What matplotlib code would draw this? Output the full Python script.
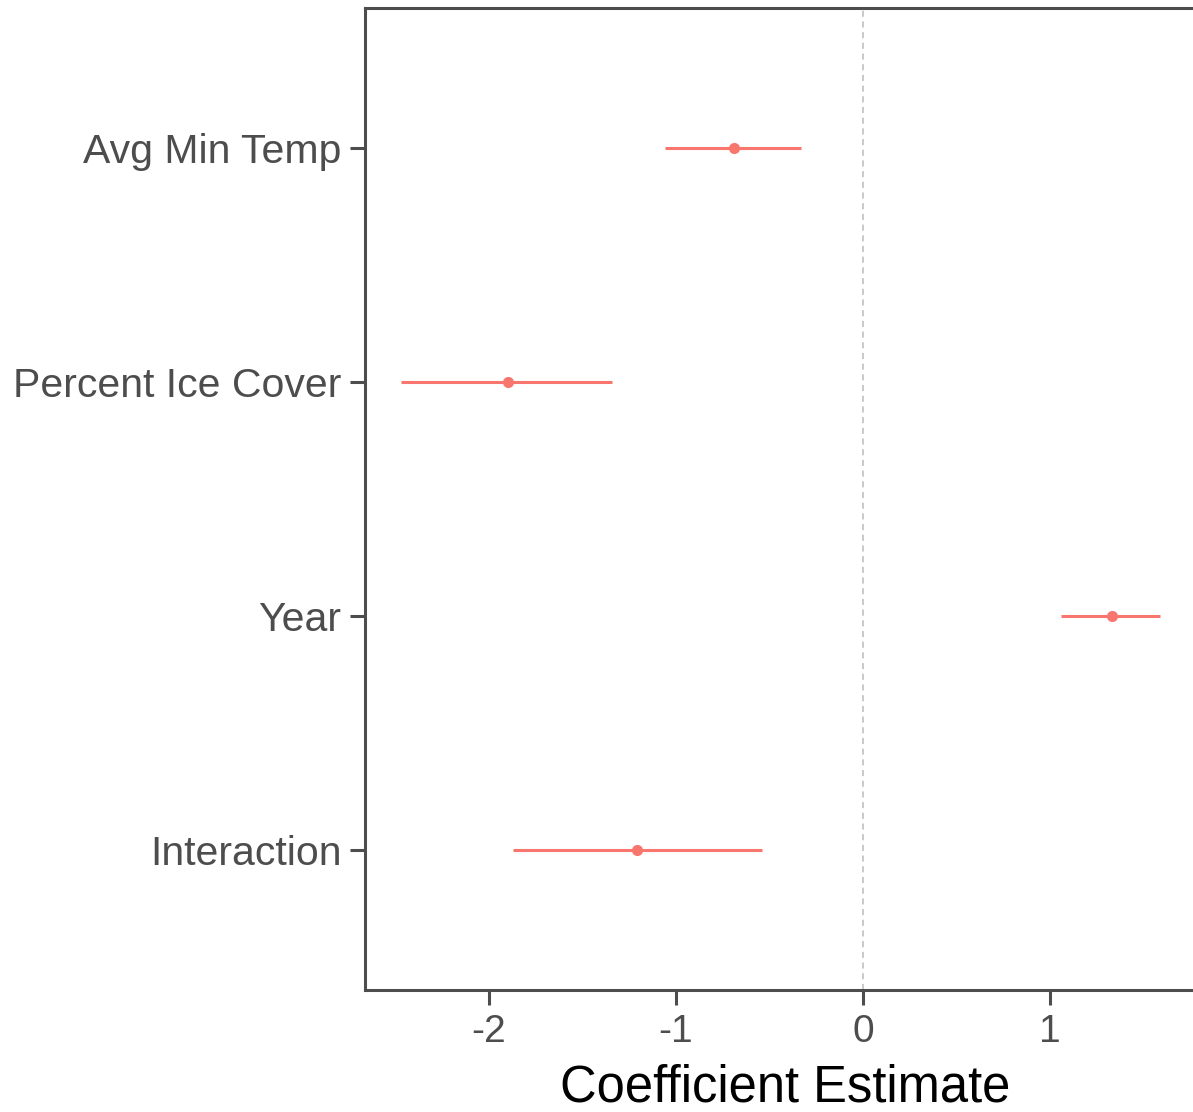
import matplotlib.pyplot as plt

terms = ["Interaction", "Year", "Percent Ice Cover", "Avg Min Temp"]
estimate = [-1.21, 1.33, -1.90, -0.69]
lower = [-1.87, 1.06, -2.47, -1.06]
upper = [-0.54, 1.59, -1.34, -0.33]

plt.rcParams['font.family'] = ['Liberation Sans', 'DejaVu Sans']

fig = plt.figure(figsize=(11.93, 11.12), dpi=100)
ax = fig.add_axes([365 / 1193, 1 - 990 / 1112, 1 - 365 / 1193 + 0.01, (990 - 8) / 1112])

col = '#F8766D'
ypos = list(range(1, len(terms) + 1))
ax.axvline(0, color='#BBBBBB', linestyle=(0, (4, 3)), linewidth=1.1, zorder=1)
ax.hlines(ypos, lower, upper, color=col, linewidth=2.2, zorder=2)
ax.plot(estimate, ypos, 'o', color=col, markersize=7, zorder=3)

ax.set_xlim(-2.663, 1.765 + 0.01 * 4.43 / (1 - 365 / 1193))
ax.set_ylim(0.4, 4.6)
ax.set_yticks(ypos)
ax.set_yticklabels(terms)
ax.set_xticks([-2, -1, 0, 1])
ax.set_xticklabels(['-2', '-1', '0', '1'])

ax.set_xlabel('Coefficient Estimate', fontsize=36.5, color='black', labelpad=10)
ax.tick_params(axis='both', colors='#4D4D4D', length=11, width=2.2, pad=6)
ax.tick_params(axis='y', labelsize=29.5)
ax.tick_params(axis='x', labelsize=28)
for s in ['left', 'bottom', 'top', 'right']:
    ax.spines[s].set_color('#4D4D4D')
    ax.spines[s].set_linewidth(2.2)
ax.spines['right'].set_visible(False)

plt.savefig('out.png', dpi=100)
